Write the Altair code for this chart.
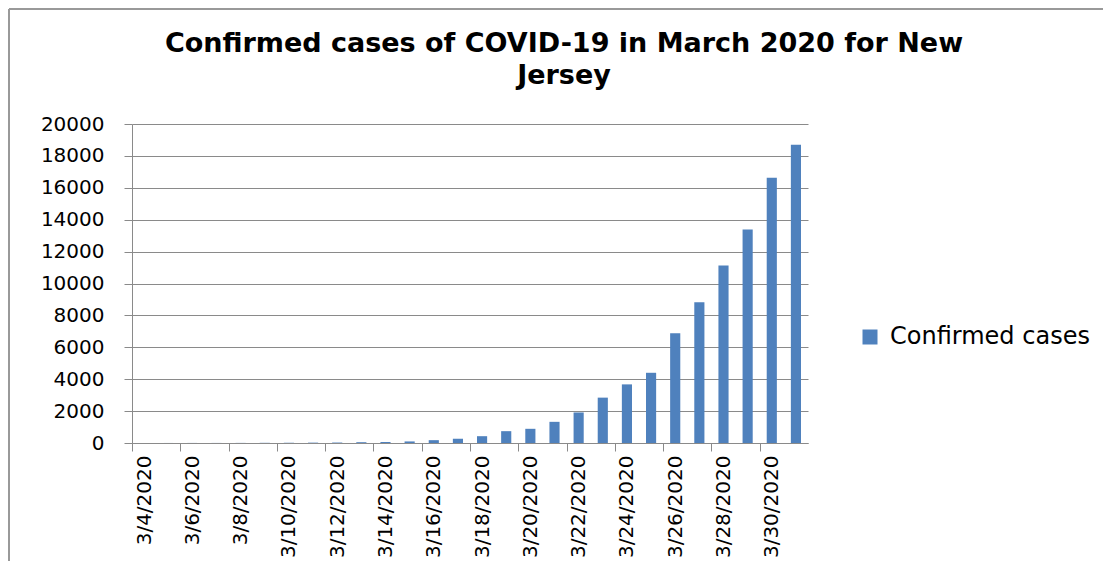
import altair as alt
import pandas as pd

dates = [f"3/{d}/2020" for d in range(4, 32)]
cases = [1, 2, 4, 4, 6, 11, 15, 23, 29, 50, 69, 98, 178, 267, 427, 742, 890,
         1327, 1914, 2844, 3675, 4402, 6876, 8825, 11124, 13386, 16636, 18696]
series_name = "Confirmed cases"
label_dates = dates[::2]
y_ticks = list(range(0, 20001, 2000))

df = pd.DataFrame({"date": dates, "cases": cases, "series": series_name})

W, H = 676, 319
step = W / len(dates)
FONT = "DejaVu Sans"
GRID = "#8a8a8a"

bars = alt.Chart(df).mark_bar(color="#4F81BD").encode(
    x=alt.X("date:N", sort=dates,
            scale=alt.Scale(paddingInner=0.58, paddingOuter=0.29),
            axis=alt.Axis(title=None, values=label_dates, labelAngle=270,
                          labelAlign="right", labelBaseline="middle",
                          labelFont=FONT, labelFontSize=20, labelColor="#000",
                          tickOffset=-step / 2, labelOffset=step / 2,
                          tickSize=8, tickColor=GRID, domainColor=GRID,
                          labelPadding=4, grid=False)),
    y=alt.Y("cases:Q", scale=alt.Scale(domain=[0, 20000]),
            axis=alt.Axis(title=None, values=y_ticks, format="d",
                          labelFont=FONT, labelFontSize=20, labelColor="#000",
                          tickSize=8, tickColor=GRID, domainColor=GRID,
                          gridColor=GRID, labelPadding=20)),
    color=alt.Color("series:N",
                    scale=alt.Scale(domain=[series_name], range=["#4F81BD"]),
                    legend=alt.Legend(title=None, orient="none", legendX=726,
                                      legendY=201, symbolType="square",
                                      symbolSize=225, symbolStrokeWidth=0,
                                      labelFont=FONT, labelFontSize=24,
                                      labelLimit=400,
                                      labelColor="#000", labelOffset=8)),
)

frame_top = alt.Chart(df).mark_rule(color="#999999", strokeWidth=2).encode(
    x=alt.value(-123), x2=alt.value(W + 300), y=alt.value(-115))
frame_left = alt.Chart(df).mark_rule(color="#999999", strokeWidth=2).encode(
    x=alt.value(-123), y=alt.value(-115), y2=alt.value(H + 130))

chart = alt.layer(frame_top, frame_left, bars).properties(
    width=W, height=H,
    title=alt.TitleParams(
        text=["Confirmed cases of COVID-19 in March 2020 for New", "Jersey"],
        font=FONT, fontSize=27, fontWeight="bold", color="#000",
        anchor="middle", frame="group", dx=94, offset=0, dy=82,
        lineHeight=32),
    autosize=alt.AutoSizeParams(type="none"),
    padding={"left": 124, "top": 116, "right": 295, "bottom": 118},
).configure_view(stroke=None)

chart.save("out.html", embed_options={"renderer": "svg", "actions": False})
